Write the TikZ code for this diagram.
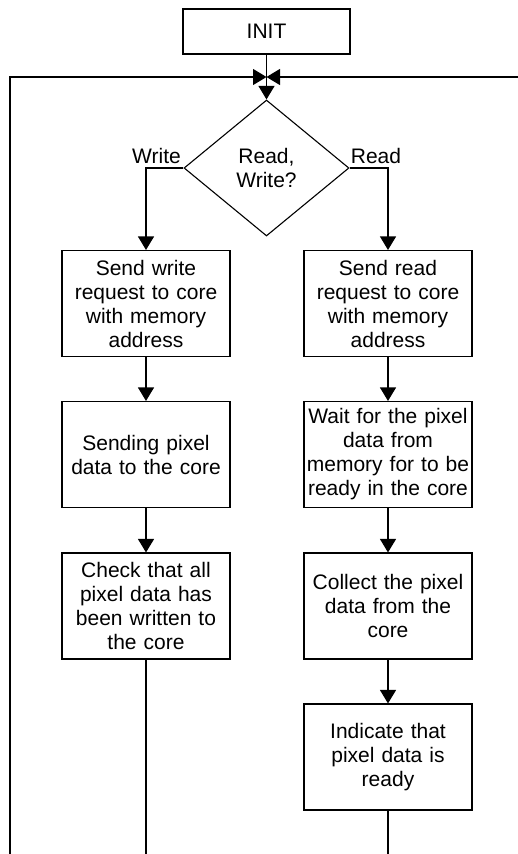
\documentclass[tikz,border=0pt]{standalone}
\usepackage{fontspec}
\setmainfont{Liberation Sans}
\usetikzlibrary{shapes.geometric,arrows.meta}
\begin{document}
\begin{tikzpicture}[x=1pt,y=-1pt,
  every node/.style={font=\fontsize{21}{24}\selectfont},
  proc/.style={draw,line width=1.1pt,rectangle,minimum width=168pt,minimum height=106pt,
    text width=164pt,align=center,inner sep=1pt},
  initbox/.style={draw,line width=1.1pt,rectangle,minimum width=167pt,minimum height=45pt,inner sep=0pt},
  decide/.style={draw,line width=1.1pt,diamond,minimum width=165pt,minimum height=136pt,
    inner sep=0pt,align=center},
  flow/.style={line width=1.1pt},
  arr/.style={flow,-{Triangle[width=16pt,length=13.5pt]}},
  lbl/.style={anchor=base,inner sep=0pt}]
\useasboundingbox (0,0) rectangle (517,854);

% start and decision
\node[initbox] (init) at (266.5,31.5) {INIT};
\coordinate (join) at (266.5,77);
\node[decide] (dec) at (266.5,168) {Read,\\Write?};

% write branch
\node[proc] (w1) at (146,303.5) {Send write\\request to core\\with memory\\address};
\node[proc] (w2) at (146,454.5) {Sending pixel\\data to the core};
\node[proc] (w3) at (146,606) {Check that all\\pixel data has\\been written to\\the core};

% read branch
\node[proc] (r1) at (388,303.5) {Send read\\request to core\\with memory\\address};
\node[proc] (r2) at (388,454.5) {Wait for the pixel\\data from\\memory for to be\\ready in the core};
\node[proc] (r3) at (388,606) {Collect the pixel\\data from the\\core};
\node[proc] (r4) at (388,757) {Indicate that\\pixel data is\\ready};

% branch labels
\node[lbl] (lw) at (156.5,163) {Write};
\node[lbl] (lr) at (376,163) {Read};

% loop-back ends leaving the page
\coordinate (loopL) at (10,860);
\coordinate (loopR) at (520,77);
\coordinate (endW) at (146,860);
\coordinate (endR) at (388,860);

% connectors
\draw[flow] (init.south) -- (join);
\draw[arr] (join) -- (dec.north);
\draw[arr] (loopL) |- (join);
\draw[arr] (loopR) -- (join);

\draw[arr] (dec.west) -| (w1.north);
\draw[arr] (dec.east) -| (r1.north);

\draw[arr] (w1) -- (w2);
\draw[arr] (w2) -- (w3);
\draw[flow] (w3.south) -- (endW);

\draw[arr] (r1) -- (r2);
\draw[arr] (r2) -- (r3);
\draw[arr] (r3) -- (r4);
\draw[flow] (r4.south) -- (endR);
\end{tikzpicture}
\end{document}
